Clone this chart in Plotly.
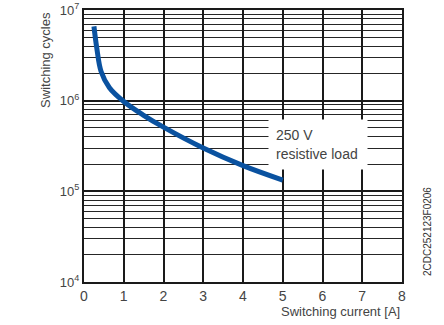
import plotly.graph_objects as go

current = [0.25, 0.32, 0.43, 0.64, 1.0, 1.5, 2.0, 3.0, 4.0, 5.0]
cycles = [6.6e6, 3.85e6, 2.1e6, 1.39e6, 9.8e5, 6.9e5, 5.1e5, 3.0e5, 1.92e5, 1.33e5]

x_ticks = [0, 1, 2, 3, 4, 5, 6, 7, 8]
y_ticks = [1e4, 1e5, 1e6, 1e7]
y_tick_text = ["10<sup>4</sup>", "10<sup>5</sup>", "10<sup>6</sup>", "10<sup>7</sup>"]

FONT = "Liberation Sans, Arial, sans-serif"
TXT = "#444"

fig = go.Figure()
fig.add_trace(go.Scatter(
    x=current, y=cycles, mode="lines",
    line=dict(color="#0a52a0", width=5, shape="spline", smoothing=1.0),
    showlegend=False, hoverinfo="skip",
))

fig.update_layout(
    width=444, height=325,
    margin=dict(l=84, r=42, t=10, b=43),
    paper_bgcolor="white", plot_bgcolor="white",
    font=dict(family=FONT, size=13, color=TXT),
    xaxis=dict(
        range=[0, 8], tickvals=x_ticks, ticktext=[str(v) for v in x_ticks],
        showgrid=True, gridcolor="#1a1a1a", gridwidth=2,
        showline=True, linecolor="#1a1a1a", linewidth=2, mirror=True,
        zeroline=False, ticks="", automargin=False,
        tickfont=dict(size=14, color=TXT),
    ),
    yaxis=dict(
        type="log", range=[4, 7], tickvals=y_ticks, ticktext=y_tick_text,
        showgrid=True, gridcolor="#1a1a1a", gridwidth=2,
        minor=dict(dtick="D1", showgrid=True, gridcolor="#262626", gridwidth=1),
        showline=True, linecolor="#1a1a1a", linewidth=2, mirror=True,
        zeroline=False, ticks="", automargin=False,
        tickfont=dict(size=13, color=TXT),
    ),
    annotations=[
        dict(text="Switching cycles", x=-0.123, y=1.0, xref="paper", yref="paper",
             xanchor="center", yanchor="top",
             showarrow=False, textangle=-90, font=dict(size=13, color=TXT)),
        dict(text="Switching current [A]", x=1.0, y=-0.110, xref="paper", yref="paper",
             xanchor="right", yanchor="middle", showarrow=False,
             font=dict(size=13, color=TXT)),
        dict(text="250 V<br>resistive load", x=5.875, y=5.517, xref="x", yref="y",
             xanchor="center", yanchor="middle", align="left", showarrow=False,
             width=84, height=35, bgcolor="white", borderpad=7,
             font=dict(size=14, color=TXT)),
        dict(text="2CDC252123F0206", x=1.082, y=0.184, xref="paper", yref="paper",
             xanchor="center", yanchor="middle",
             textangle=-90, showarrow=False, font=dict(size=10, color="#333")),
    ],
)

fig.write_html("out.html", config={"displayModeBar": False},
               post_script="document.body.style.margin='0px';")
